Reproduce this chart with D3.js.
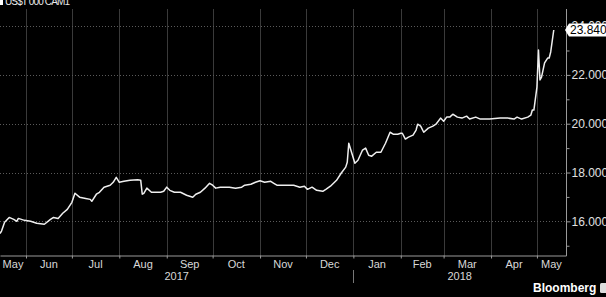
<!DOCTYPE html>
<html>
<head>
<meta charset="utf-8">
<script src="https://cdn.jsdelivr.net/npm/d3@7"></script>
<style>
  body { margin: 0; background: #000; }
  svg { display: block; }
</style>
</head>
<body>
<div id="container"></div>
<script>
let w = 606;
let h = 297;

// days counted from the first date of the window
let startDate = new Date(2017, 4, 15);
let endDate = new Date(2018, 4, 20);

let dayOffsets = [0, 1, 3, 6, 9, 11, 12, 16, 20, 24, 29, 33, 35, 38, 41, 44, 47, 49, 52, 56,
  59, 60, 63, 65, 68, 72, 74, 76, 78, 81, 85, 90, 92, 93, 94, 96, 99, 105, 107, 109,
  111, 114, 118, 122, 126, 128, 131, 134, 137, 139, 141, 144, 147, 150, 154, 158, 160, 164, 167, 170,
  173, 177, 179, 181, 185, 192, 196, 199, 201, 204, 207, 211, 213, 216, 220, 223, 226, 227, 228, 230,
  232, 234, 237, 239, 241, 243, 246, 249, 252, 255, 257, 260, 262, 263, 265, 267, 270, 272, 273, 275,
  277, 280, 283, 285, 288, 290, 292, 294, 296, 299, 302, 305, 307, 311, 314, 320, 327, 332, 336, 338,
  341, 345, 347, 348, 349, 351, 352, 353, 354, 356, 358, 359, 360, 362];

let values = [15.50, 15.60, 15.96, 16.16, 16.08, 16.00, 16.12, 16.04, 16.00, 15.92, 15.88, 16.08, 16.16, 16.12, 16.33, 16.49, 16.78, 17.15, 16.99, 16.94,
  16.90, 16.82, 17.11, 17.19, 17.40, 17.48, 17.60, 17.80, 17.60, 17.64, 17.68, 17.70, 17.68, 17.11, 17.15, 17.36, 17.19, 17.19, 17.23, 17.40,
  17.27, 17.19, 17.19, 17.07, 16.99, 17.11, 17.19, 17.36, 17.56, 17.48, 17.36, 17.40, 17.40, 17.40, 17.36, 17.40, 17.48, 17.52, 17.60, 17.66,
  17.60, 17.64, 17.56, 17.48, 17.48, 17.48, 17.40, 17.44, 17.31, 17.40, 17.27, 17.23, 17.31, 17.44, 17.68, 17.97, 18.22, 18.42, 19.20, 18.79,
  18.38, 18.50, 18.92, 19.00, 18.71, 18.67, 18.83, 18.83, 19.20, 19.65, 19.57, 19.57, 19.61, 19.61, 19.37, 19.45, 19.53, 19.74, 19.98, 19.90,
  19.65, 19.82, 19.90, 19.98, 20.23, 20.10, 20.27, 20.27, 20.39, 20.27, 20.23, 20.31, 20.19, 20.27, 20.19, 20.19, 20.23, 20.23, 20.19, 20.27,
  20.19, 20.27, 20.35, 20.56, 20.56, 21.50, 23.02, 21.79, 21.91, 22.49, 22.69, 22.69, 22.94, 23.84];

let yMajorTicks = [16, 18, 20, 22, 24];
let yMinorTicks = [15, 17, 19, 21, 23];
let lastValueLabel = "23.840";
let unitLabel = "US$T 000 CAM1";
let sourceLabel = "Bloomberg";

let data = dayOffsets.map(function(d, i){
  return {date: d3.timeDay.offset(startDate, d), value: values[i]};
});

let plotLeft = 0;
let plotRight = 566;
let plotTop = 9;
let plotBottom = 255.5;

let viz = d3.select("#container")
  .append("svg")
    .attr("width", w)
    .attr("height", h)
    .style("background-color", "#000")
;

let xScale = d3.scaleTime().domain([startDate, endDate]).range([plotLeft, plotRight]);
let yScale = d3.scaleLinear().domain([14.6, 24.7]).range([plotBottom, plotTop]);

let months = d3.timeMonth.range(d3.timeMonth.ceil(startDate), endDate);

// vertical grid at month starts
viz.append("g").attr("class", "vgrid")
  .selectAll("line").data(months).enter().append("line")
    .attr("x1", function(d){ return Math.round(xScale(d)) + 0.5; })
    .attr("x2", function(d){ return Math.round(xScale(d)) + 0.5; })
    .attr("y1", plotTop)
    .attr("y2", plotBottom)
    .attr("stroke", "#3a3a3a")
    .attr("stroke-width", 1)
;

// horizontal dotted grid
viz.append("g").attr("class", "hgrid")
  .selectAll("line").data(yMajorTicks).enter().append("line")
    .attr("x1", plotLeft)
    .attr("x2", plotRight)
    .attr("y1", function(d){ return Math.round(yScale(d)) + 0.5; })
    .attr("y2", function(d){ return Math.round(yScale(d)) + 0.5; })
    .attr("stroke", "#5a5a5a")
    .attr("stroke-dasharray", "1,2")
;

// bottom axis with month ticks
let xAxis = d3.axisBottom(xScale).tickValues(months).tickSize(3).tickSizeOuter(0).tickFormat("");
let xAxisGroup = viz.append("g").attr("class", "xaxis")
  .attr("transform", "translate(0," + plotBottom + ")")
  .call(xAxis);
xAxisGroup.selectAll("path, line").attr("stroke", "#9a9a9a");

// month labels centred in each month
let monthStarts = [d3.timeMonth.floor(startDate)].concat(months);
viz.append("g").attr("class", "monthlabels")
  .selectAll("text").data(monthStarts).enter().append("text")
    .attr("x", function(d){
      let a = d3.max([d, startDate]);
      let b = d3.min([d3.timeMonth.offset(d, 1), endDate]);
      return (xScale(a) + xScale(b)) / 2;
    })
    .attr("y", 268)
    .attr("text-anchor", "middle")
    .attr("fill", "#d8d8d8")
    .attr("font-family", "Liberation Sans, Arial, sans-serif")
    .attr("font-size", 11)
    .text(d3.timeFormat("%b"))
;

// year labels and separator
let yearBreak = new Date(2018, 0, 1);
let years = [
  {label: "2017", a: startDate, b: yearBreak},
  {label: "2018", a: yearBreak, b: endDate}
];
viz.append("g").attr("class", "yearlabels")
  .selectAll("text").data(years).enter().append("text")
    .attr("x", function(d){ return (xScale(d.a) + xScale(d.b)) / 2; })
    .attr("y", 280)
    .attr("text-anchor", "middle")
    .attr("fill", "#d8d8d8")
    .attr("font-family", "Liberation Sans, Arial, sans-serif")
    .attr("font-size", 11)
    .text(function(d){ return d.label; })
;
viz.append("line")
  .attr("x1", Math.round(xScale(yearBreak)) + 0.5)
  .attr("x2", Math.round(xScale(yearBreak)) + 0.5)
  .attr("y1", 270)
  .attr("y2", 283)
  .attr("stroke", "#777")
;

// right axis
let yAxis = d3.axisRight(yScale)
  .tickValues(yMajorTicks.concat(yMinorTicks))
  .tickSize(4)
  .tickPadding(1)
  .tickSizeOuter(0)
  .tickFormat(function(d){ return yMajorTicks.indexOf(d) >= 0 ? d3.format(".4f")(d) : ""; });
let yAxisGroup = viz.append("g").attr("class", "yaxis")
  .attr("transform", "translate(" + (plotRight + 0.5) + ",0)")
  .call(yAxis);
yAxisGroup.select(".domain").attr("stroke", "#9a9a9a").attr("d", "M0," + plotTop + "V" + (plotBottom + 0.5));
yAxisGroup.selectAll(".tick line").attr("stroke", "#9a9a9a")
  .attr("x2", function(d){ return yMajorTicks.indexOf(d) >= 0 ? 4 : 3; });
yAxisGroup.selectAll(".tick text")
  .attr("fill", "#e0e0e0")
  .attr("font-family", "Liberation Sans, Arial, sans-serif")
  .attr("font-size", 12);

// the price line
let line = d3.line()
  .x(function(d){ return xScale(d.date); })
  .y(function(d){ return yScale(d.value); });

viz.append("path")
  .datum(data)
  .attr("d", line)
  .attr("fill", "none")
  .attr("stroke", "#efefef")
  .attr("stroke-width", 1.5)
  .attr("stroke-linejoin", "round")
;

// last value tag
let last = data[data.length - 1];
let ly = yScale(last.value);
let tag = viz.append("g").attr("transform", "translate(" + (plotRight - 1) + "," + ly + ")");
tag.append("path")
  .attr("d", "M0,0 L4,-6.5 H45 V6.5 H4 Z")
  .attr("fill", "#ffffff");
tag.append("text")
  .attr("x", 5)
  .attr("y", 0)
  .attr("dy", "0.35em")
  .attr("fill", "#000")
  .attr("font-family", "Liberation Sans, Arial, sans-serif")
  .attr("font-size", 12)
  .text(lastValueLabel);

// unit label in the top left corner (cut by the top edge, as in the source)
viz.append("rect").attr("x", 0).attr("y", 0).attr("width", 3).attr("height", 5).attr("fill", "#fff");
viz.append("text")
  .attr("x", 5)
  .attr("y", 5)
  .attr("fill", "#e8e8e8")
  .attr("font-family", "Liberation Sans, Arial, sans-serif")
  .attr("font-size", 10)
  .attr("textLength", 65)
  .text(unitLabel);

// source
viz.append("text")
  .attr("x", 533)
  .attr("y", 292)
  .attr("fill", "#fff")
  .attr("font-family", "Liberation Sans, Arial, sans-serif")
  .attr("font-weight", "bold")
  .attr("font-size", 12)
  .text(sourceLabel);
viz.append("rect")
  .attr("x", 600).attr("y", 283).attr("width", 9).attr("height", 10).attr("rx", 1.5)
  .attr("fill", "#ddd");
</script>
</body>
</html>
